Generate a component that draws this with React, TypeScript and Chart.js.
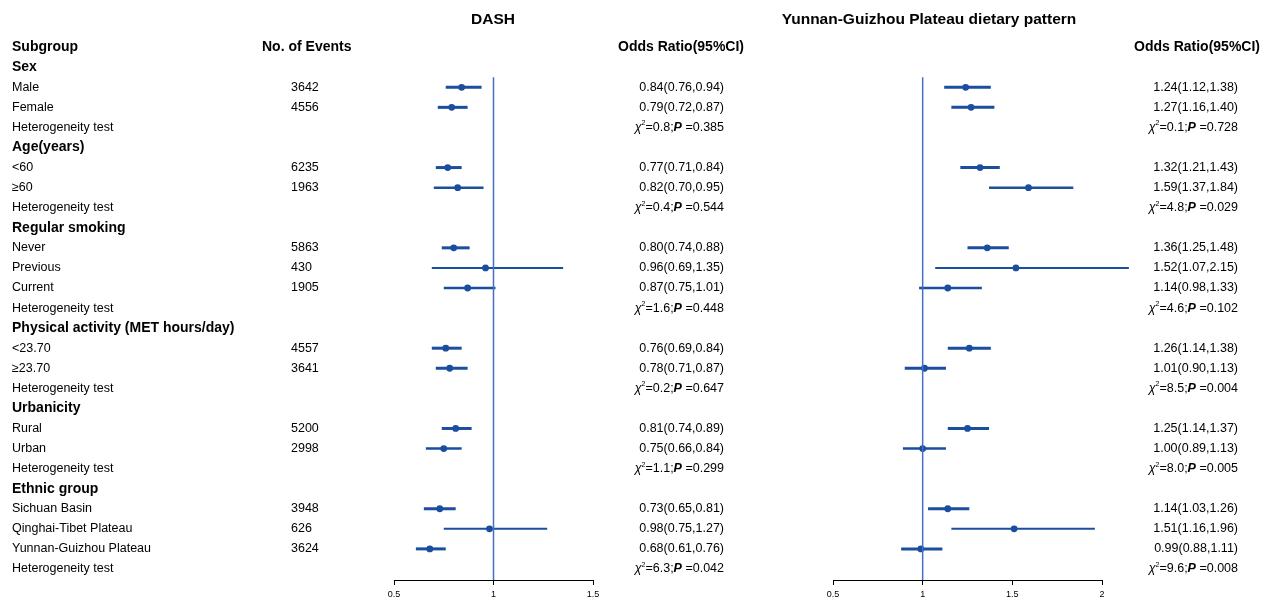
import React, { useEffect, useRef } from 'react';
import { Chart, registerables } from 'chart.js';
Chart.register(...registerables);

// ---------- DATA ----------
const rowLabels = [
  'Subgroup', 'Sex', 'Male', 'Female', 'Heterogeneity test',
  'Age(years)', '<60', '≥60', 'Heterogeneity test',
  'Regular smoking', 'Never', 'Previous', 'Current', 'Heterogeneity test',
  'Physical activity (MET hours/day)', '<23.70', '≥23.70', 'Heterogeneity test',
  'Urbanicity', 'Rural', 'Urban', 'Heterogeneity test',
  'Ethnic group', 'Sichuan Basin', 'Qinghai-Tibet Plateau', 'Yunnan-Guizhou Plateau', 'Heterogeneity test',
];
const rowKinds = [
  'head', 'group', 'item', 'item', 'het',
  'group', 'item', 'item', 'het',
  'group', 'item', 'item', 'item', 'het',
  'group', 'item', 'item', 'het',
  'group', 'item', 'item', 'het',
  'group', 'item', 'item', 'item', 'het',
];
const events = [3642, 4556, 6235, 1963, 5863, 430, 1905, 4557, 3641, 5200, 2998, 3948, 626, 3624];

const dashOR = [0.84, 0.79, 0.77, 0.82, 0.80, 0.96, 0.87, 0.76, 0.78, 0.81, 0.75, 0.73, 0.98, 0.68];
const dashLo = [0.76, 0.72, 0.71, 0.70, 0.74, 0.69, 0.75, 0.69, 0.71, 0.74, 0.66, 0.65, 0.75, 0.61];
const dashHi = [0.94, 0.87, 0.84, 0.95, 0.88, 1.35, 1.01, 0.84, 0.87, 0.89, 0.84, 0.81, 1.27, 0.76];
const dashChi = ['0.8', '0.4', '1.6', '0.2', '1.1', '6.3'];
const dashP = ['0.385', '0.544', '0.448', '0.647', '0.299', '0.042'];

const ygpOR = [1.24, 1.27, 1.32, 1.59, 1.36, 1.52, 1.14, 1.26, 1.01, 1.25, 1.00, 1.14, 1.51, 0.99];
const ygpLo = [1.12, 1.16, 1.21, 1.37, 1.25, 1.07, 0.98, 1.14, 0.90, 1.14, 0.89, 1.03, 1.16, 0.88];
const ygpHi = [1.38, 1.40, 1.43, 1.84, 1.48, 2.15, 1.33, 1.38, 1.13, 1.37, 1.13, 1.26, 1.96, 1.11];
const ygpChi = ['0.1', '4.8', '4.6', '8.5', '8.0', '9.6'];
const ygpP = ['0.728', '0.029', '0.102', '0.004', '0.005', '0.008'];

const dashTicks = [0.5, 1, 1.5];
const ygpTicks = [0.5, 1, 1.5, 2];

// ---------- STYLE ----------
const FONT = "'Liberation Sans', Arial, sans-serif";
const CI_COLOR = '#1a4e9e';
const REF_COLOR = '#4470c4';
const TXT = 12.5;

const itemRows = rowKinds.map((k, i) => (k === 'item' ? i : -1)).filter((i) => i >= 0);
const hetRows = rowKinds.map((k, i) => (k === 'het' ? i : -1)).filter((i) => i >= 0);

const fmt = (v: number) => v.toFixed(2);

function drawHet(ctx: CanvasRenderingContext2D, right: number, y: number, chi: string, p: string) {
  const parts = [
    { t: 'χ', f: `italic ${TXT}px ${FONT}`, dy: 0 },
    { t: '2', f: `7px ${FONT}`, dy: -4 },
    { t: '=' + chi + ';', f: `${TXT}px ${FONT}`, dy: 0 },
    { t: 'P', f: `italic bold ${TXT}px ${FONT}`, dy: 0 },
    { t: ' =' + p, f: `${TXT}px ${FONT}`, dy: 0 },
  ];
  let total = 0;
  const widths = parts.map((pt) => {
    ctx.font = pt.f;
    const w = ctx.measureText(pt.t).width;
    total += w;
    return w;
  });
  let x = right - total;
  ctx.textAlign = 'left';
  parts.forEach((pt, i) => {
    ctx.font = pt.f;
    ctx.fillText(pt.t, x, y + pt.dy);
    x += widths[i];
  });
}

interface Panel {
  key: string;
  left: number;
  width: number;
  padLeft: number;
  padRight: number;
  min: number;
  max: number;
  ticks: number[];
  or: number[];
  lo: number[];
  hi: number[];
  chi: string[];
  p: string[];
  title: string;
  titleX: number;
  orHeadX: number;
  orRight: number;
  withLabels: boolean;
}

const panels: Panel[] = [
  {
    key: 'dash', left: 0, width: 760, padLeft: 394, padRight: 760 - 593,
    min: 0.5, max: 1.5, ticks: dashTicks, or: dashOR, lo: dashLo, hi: dashHi, chi: dashChi, p: dashP,
    title: 'DASH', titleX: 493, orHeadX: 681, orRight: 724, withLabels: true,
  },
  {
    key: 'ygp', left: 760, width: 509, padLeft: 833 - 760, padRight: 760 + 509 - 1102,
    min: 0.5, max: 2, ticks: ygpTicks, or: ygpOR, lo: ygpLo, hi: ygpHi, chi: ygpChi, p: ygpP,
    title: 'Yunnan-Guizhou Plateau dietary pattern', titleX: 929 - 760, orHeadX: 1197 - 760, orRight: 1238 - 760,
    withLabels: false,
  },
];

function buildChart(canvas: HTMLCanvasElement, pn: Panel) {
  const datasets: any[] = [];
  datasets.push({
    type: 'line',
    data: [{ x: 1, y: 1.5 }, { x: 1, y: 26.55 }],
    borderColor: REF_COLOR,
    borderWidth: 1.5,
    pointRadius: 0,
    clip: false,
  });
  itemRows.forEach((r, i) => {
    const ev = events[i];
    datasets.push({
      type: 'line',
      data: [{ x: pn.lo[i], y: r }, { x: pn.hi[i], y: r }],
      borderColor: CI_COLOR,
      borderWidth: ev > 3000 ? 3 : ev > 1500 ? 2.5 : 2,
      pointRadius: 0,
      clip: false,
    });
  });
  datasets.push({
    type: 'scatter',
    data: itemRows.map((r, i) => ({ x: pn.or[i], y: r })),
    backgroundColor: CI_COLOR,
    borderColor: CI_COLOR,
    borderWidth: 0,
    pointRadius: 3.4,
    clip: false,
  });

  const textPlugin = {
    id: 'txt_' + pn.key,
    afterDraw(chart: any) {
      const ctx: CanvasRenderingContext2D = chart.ctx;
      const ys = chart.scales.y;
      const Y = (r: number) => ys.getPixelForValue(r);
      ctx.save();
      ctx.fillStyle = '#000';
      ctx.textBaseline = 'middle';
      // title
      ctx.font = `bold 15.5px ${FONT}`;
      ctx.textAlign = 'center';
      ctx.fillText(pn.title, pn.titleX, Y(-1.35));
      // OR header
      ctx.font = `bold 14px ${FONT}`;
      ctx.fillText('Odds Ratio(95%CI)', pn.orHeadX, Y(0));
      if (pn.withLabels) {
        rowLabels.forEach((lab, r) => {
          const k = rowKinds[r];
          ctx.font = k === 'head' || k === 'group' ? `bold 14px ${FONT}` : `${TXT}px ${FONT}`;
          ctx.textAlign = 'left';
          ctx.fillText(lab, 12, Y(r));
        });
        ctx.font = `bold 14px ${FONT}`;
        ctx.textAlign = 'left';
        ctx.fillText('No. of Events', 262, Y(0));
        ctx.font = `${TXT}px ${FONT}`;
        itemRows.forEach((r, i) => {
          ctx.fillText(String(events[i]), 291, Y(r));
        });
      }
      // OR texts
      itemRows.forEach((r, i) => {
        ctx.font = `${TXT}px ${FONT}`;
        ctx.textAlign = 'right';
        ctx.fillText(`${fmt(pn.or[i])}(${fmt(pn.lo[i])},${fmt(pn.hi[i])})`, pn.orRight, Y(r));
      });
      hetRows.forEach((r, i) => {
        drawHet(ctx, pn.orRight, Y(r), pn.chi[i], pn.p[i]);
      });
      ctx.restore();
    },
  };

  return new Chart(canvas, {
    type: 'scatter',
    data: { datasets },
    options: {
      responsive: false,
      animation: false,
      events: [],
      layout: { padding: { left: pn.padLeft, right: pn.padRight, top: 7, bottom: 0 } },
      plugins: { legend: { display: false }, tooltip: { enabled: false } },
      scales: {
        x: {
          type: 'linear',
          min: pn.min,
          max: pn.max,
          afterBuildTicks: (s: any) => {
            s.ticks = pn.ticks.map((v) => ({ value: v }));
          },
          afterFit: (s: any) => {
            s.height = 21;
          },
          ticks: {
            font: { family: FONT, size: 9 },
            color: '#000',
            padding: 4,
            maxRotation: 0,
            callback: (v: any) => String(v),
          },
          grid: { drawOnChartArea: false, drawTicks: true, tickLength: 5, color: '#000', lineWidth: 1 },
          border: { display: true, color: '#000', width: 1 },
        },
        y: {
          type: 'linear',
          reverse: true,
          min: -2,
          max: 26.55,
          display: false,
        },
      },
    },
    plugins: [textPlugin],
  } as any);
}

export default function App() {
  const refA = useRef<HTMLCanvasElement>(null);
  const refB = useRef<HTMLCanvasElement>(null);
  useEffect(() => {
    const charts: Chart[] = [];
    if (refA.current) charts.push(buildChart(refA.current, panels[0]));
    if (refB.current) charts.push(buildChart(refB.current, panels[1]));
    return () => charts.forEach((c) => c.destroy());
  }, []);
  return (
    <div style={{ position: 'fixed', left: 0, top: 0, width: 1269, height: 601, background: '#fff' }}>
      <canvas ref={refA} width={panels[0].width} height={601}
        style={{ position: 'absolute', left: panels[0].left, top: 0 }} />
      <canvas ref={refB} width={panels[1].width} height={601}
        style={{ position: 'absolute', left: panels[1].left, top: 0 }} />
    </div>
  );
}
